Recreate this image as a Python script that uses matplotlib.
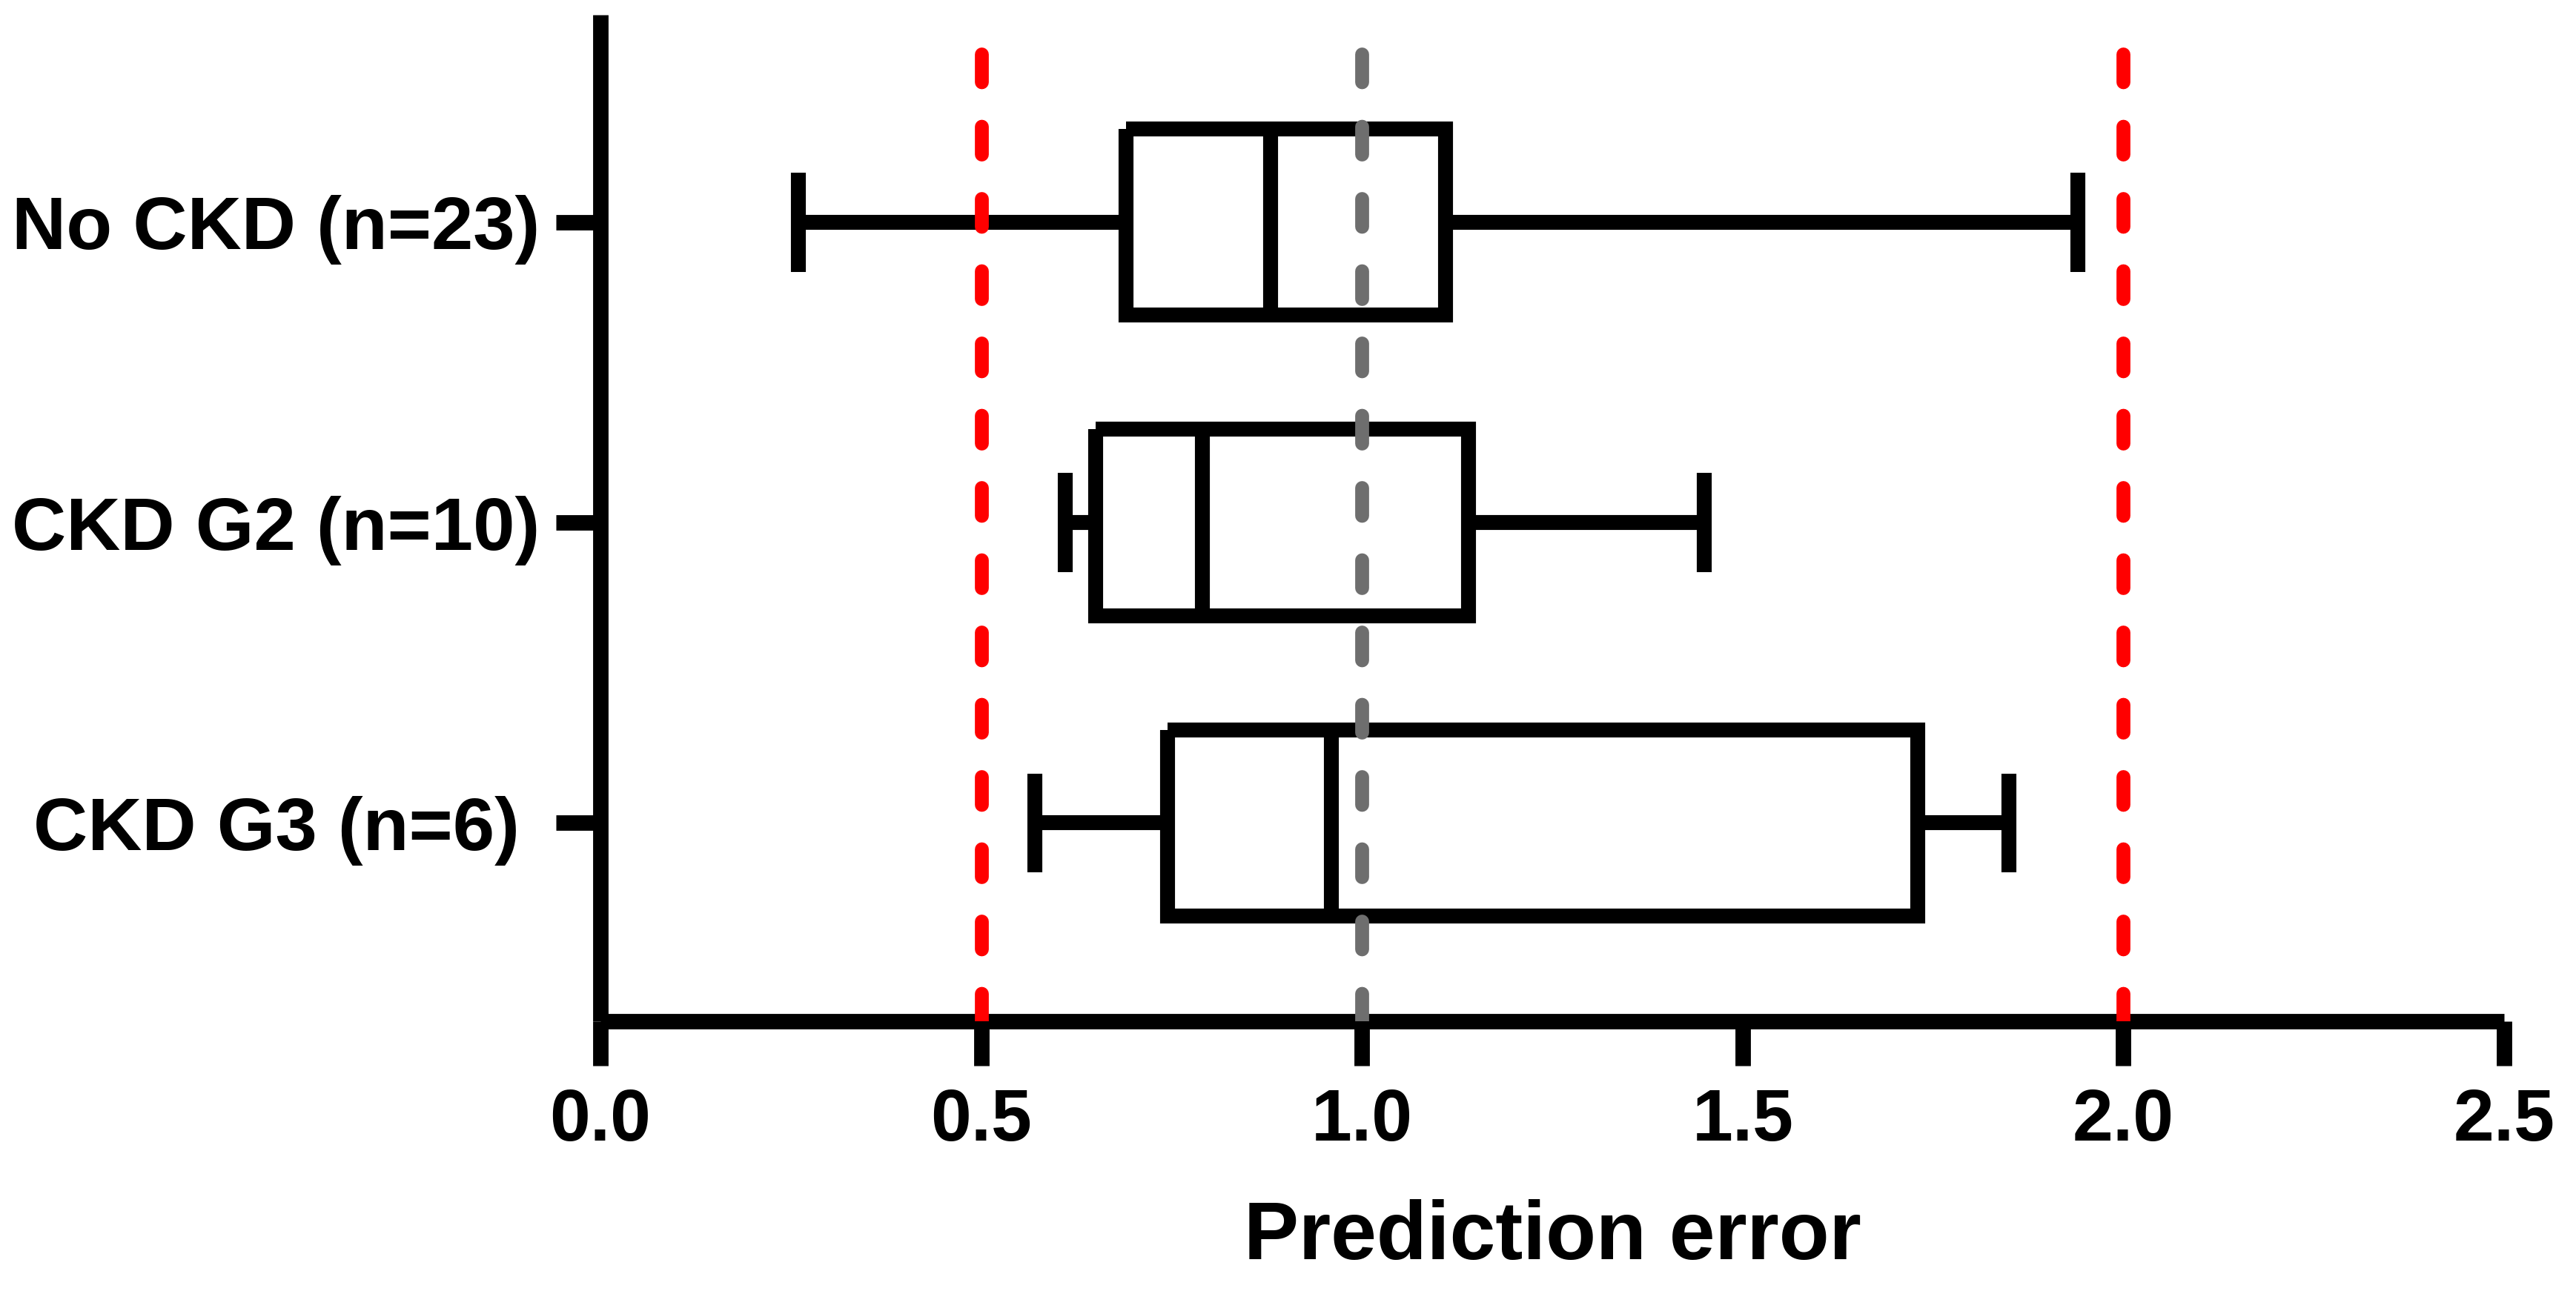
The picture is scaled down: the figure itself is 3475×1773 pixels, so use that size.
import matplotlib
matplotlib.use('Agg')
import matplotlib.pyplot as plt

plt.rcParams['font.family'] = ['Liberation Sans', 'DejaVu Sans']
plt.rcParams['font.weight'] = 'bold'

# values
groups = ['No CKD (n=23)', 'CKD G2 (n=10)', 'CKD G3 (n=6)']
whisker_low = [0.26, 0.61, 0.57]
q1 = [0.69, 0.65, 0.745]
median = [0.88, 0.79, 0.96]
q3 = [1.11, 1.14, 1.73]
whisker_high = [1.94, 1.45, 1.85]
red_lines = [0.5, 2.0]
gray_lines = [1.0]
x_ticks = [0.0, 0.5, 1.0, 1.5, 2.0, 2.5]

LW = 14.5

fig = plt.figure(figsize=(34.75, 17.73), dpi=100)
ax = fig.add_axes([0.2331, 0.2228, 0.9721 - 0.2331, 0.9887 - 0.2228])

stats = []
for i in range(len(groups)):
    stats.append(dict(label=groups[i], whislo=whisker_low[i], q1=q1[i],
                      med=median[i], q3=q3[i], whishi=whisker_high[i],
                      fliers=[]))

positions = list(range(1, len(groups) + 1))
line = dict(color='black', linewidth=LW, solid_capstyle='butt',
            solid_joinstyle='miter')
ax.bxp(stats, positions=positions, orientation='horizontal', widths=0.62,
       capwidths=0.33, showfliers=False,
       boxprops=line, medianprops=line, whiskerprops=line, capprops=line)

for x in red_lines:
    ax.axvline(x, color='#ff0000', linewidth=13.5, linestyle=(0, (2.0, 3.2)),
               dash_capstyle='round', zorder=5)
for x in gray_lines:
    ax.axvline(x, color='#6e6e6e', linewidth=13.5, linestyle=(0, (2.0, 3.2)),
               dash_capstyle='round', zorder=5)

ax.set_xlim(0, 2.5)
ax.set_ylim(3.66, 0.31)
ax.set_xticks(x_ticks)
ax.set_xticklabels(['%.1f' % t for t in x_ticks])
ax.set_yticks(positions)
ax.set_yticklabels(groups, ha='center')

for s in ['top', 'right']:
    ax.spines[s].set_visible(False)
for s in ['left', 'bottom']:
    ax.spines[s].set_linewidth(15)
    ax.spines[s].set_capstyle('butt')

ax.tick_params(axis='both', length=43, width=15, color='black')
# labels are centred on a common line, as in the source figure
ax.tick_params(axis='y', labelsize=73, pad=272)
ax.tick_params(axis='x', labelsize=71, pad=22)
ax.set_xlabel('Prediction error', fontsize=80, fontweight='bold', labelpad=42)

fig.savefig('out.png', dpi=100, facecolor='white')
